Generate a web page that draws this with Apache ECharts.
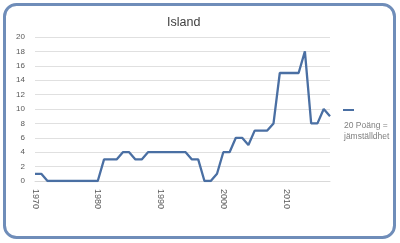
<!DOCTYPE html>
<html>
<head>
<meta charset="utf-8">
<script src="https://cdn.jsdelivr.net/npm/echarts@6/dist/echarts.min.js"></script>
<style>
html,body{margin:0;padding:0;background:#fff;}
#c{width:400px;height:243px;}
</style>
</head>
<body>
<div id="c"></div>
<script>
var years = [];
for (var y = 1970; y <= 2017; y++) years.push(String(y));
var points = [1,1,0,0,0,0,0,0,0,0,0,3,3,3,4,4,3,3,4,4,4,4,4,4,4,3,3,0,0,1,4,4,6,6,5,7,7,7,8,15,15,15,15,18,8,8,10,9];
var yTicks = [0,2,4,6,8,10,12,14,16,18,20];
var seriesName = '20 Poäng = jämställdhet';
var titleText = 'Island';

var chart = echarts.init(document.getElementById('c'), null, {renderer:'canvas'});
var font = 'Liberation Sans, Arial, sans-serif';
chart.setOption({
  animation:false,
  textStyle:{fontFamily:font},
  graphic:[{
    type:'rect', z:-1,
    shape:{x:4.5,y:4.5,width:390,height:233,r:12},
    style:{fill:'#fff',stroke:'#6f8db9',lineWidth:3}
  }],
  title:[{
    text:titleText, left:162, top:11,
    textStyle:{fontSize:12.5,fontWeight:'normal',color:'#404040',fontFamily:font}
  },{
    text:'20 Poäng =\njämställdhet', left:339, top:115,
    textStyle:{fontSize:8.5,fontWeight:'normal',color:'#808080',lineHeight:11,fontFamily:font}
  }],
  legend:{
    left:338, top:104, itemWidth:11, itemHeight:2, icon:'rect',
    formatter:function(){return '';},
    data:[seriesName]
  },
  grid:{left:35,right:70,top:37,bottom:62},
  xAxis:{
    type:'category', data:years, boundaryGap:false,
    axisLine:{lineStyle:{color:'#d9d9d9'}},
    axisTick:{show:false},
    axisLabel:{
      interval:function(i,v){return Number(v)%10===0;},
      rotate:-90, fontSize:9, color:'#595959', margin:8
    },
    splitLine:{show:false}
  },
  yAxis:{
    type:'value', min:yTicks[0], max:yTicks[yTicks.length-1], interval:2,
    axisLine:{show:false}, axisTick:{show:false},
    axisLabel:{fontSize:8,color:'#595959',margin:10},
    splitLine:{lineStyle:{color:'#e0e0e0'}}
  },
  series:[{
    name:seriesName, type:'line', data:points, symbol:'none',
    lineStyle:{color:'#4a6fa3',width:2.3},
    itemStyle:{color:'#4a6fa3'}
  }]
});
</script>
</body>
</html>
